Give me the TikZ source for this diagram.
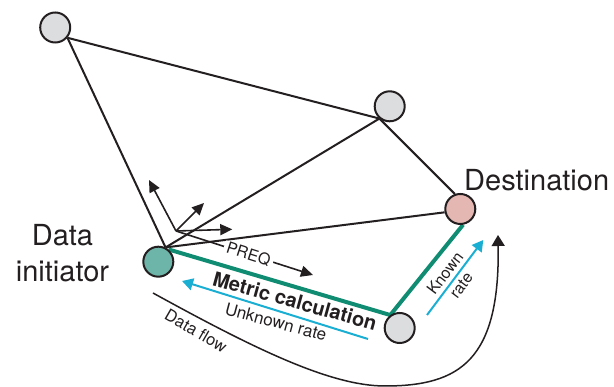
\documentclass[tikz,border=0pt]{standalone}
\usepackage{fontspec}
\setmainfont{TeX Gyre Heros}
\usetikzlibrary{arrows.meta}
\definecolor{ink}{HTML}{231F20}
\definecolor{nodegray}{HTML}{DCDDDF}
\definecolor{destpink}{HTML}{E5B7B2}
\definecolor{srcteal}{HTML}{6DB5A8}
\definecolor{pathgreen}{HTML}{108C73}
\definecolor{ratecyan}{HTML}{1AAED2}
\pgfdeclarelayer{bg}
\pgfsetlayers{bg,main}
\begin{document}
\begin{tikzpicture}[x=1pt,y=-1pt,
  netnode/.style={circle, draw=ink, line width=2pt, minimum size=30pt, inner sep=0pt},
  link/.style={draw=ink, line width=2pt},
  greenlink/.style={draw=pathgreen, line width=4pt},
  preqarrow/.style={draw=ink, line width=1.6pt, -{Triangle[length=12pt,width=11pt]}},
  ratearrow/.style={draw=ratecyan, line width=2pt, -{Triangle[length=11pt,width=12pt]}},
  flowarrow/.style={draw=ink, line width=1.5pt, -{Triangle[length=11pt,width=13pt]}},
  bigtext/.style={text=ink, font=\fontsize{29}{36}\selectfont, inner sep=0pt},
  smalltext/.style={text=ink, font=\fontsize{16}{20}\selectfont, inner sep=0pt}
]
\useasboundingbox (0,0) rectangle (614,387);

% network nodes
\node[netnode, fill=nodegray] (A) at (55.2,27.5) {};
\node[netnode, fill=nodegray] (B) at (389.7,106.3) {};
\node[netnode, fill=destpink] (D) at (460.3,209) {};
\node[netnode, fill=nodegray] (C) at (399.7,328) {};
\node[netnode, fill=srcteal] (S) at (158.3,261.7) {};

% links
\begin{pgfonlayer}{bg}
  \path[link] (A.-40) -- (S.63);
  \path[link] (A.-40) -- (B.230);
  \path[link] (B.230) -- (S.63);
  \path[link] (B.230) -- (D.110);
  \path[link] (S.63) -- (D.192);
  \path[greenlink] (S.50) -- (C.126);
  \path[greenlink] (C.126) -- (D.-80);
\end{pgfonlayer}

% labels
\node[bigtext, anchor=base west] (dest) at (464,190.5) {Destination};
\node[bigtext, align=center, anchor=base] (init) at (62.5,282) {Data\\initiator};

% PREQ broadcast arrows
\coordinate (O) at (176,231);
\coordinate (q1) at (149,180);
\coordinate (q2) at (204,203);
\coordinate (q3) at (232.3,229.3);
\coordinate (q4) at (313,275);
\draw[preqarrow] (O) -- (q1);
\draw[preqarrow] (O) -- (q2);
\draw[preqarrow] (O) -- (q3);
\draw[preqarrow] (O) -- node[pos=0.53, fill=white, rotate=-17.8, inner xsep=3pt, inner ysep=0pt, text=ink, font=\fontsize{16}{20}\selectfont] (preq) {PREQ} (q4);

% metric calculation
\node[text=ink, font=\fontsize{20}{24}\selectfont\bfseries, rotate=-15.5, inner sep=0pt] (metric) at (295,301) {Metric calculation};
\node[text=ink, font=\fontsize{17}{20}\selectfont, rotate=-15, inner sep=0pt] (unk) at (276,322) {Unknown rate};
\coordinate (u1) at (368,339);
\coordinate (u2) at (182,281);
\draw[ratearrow] (u1) -- (u2);

% known rate
\coordinate (k1) at (427,315);
\coordinate (k2) at (483.3,240);
\draw[ratearrow] (k1) -- (k2);
\node[smalltext, align=center, rotate=53] (known) at (453,279) {Known\\rate};

% data flow
\coordinate (f0) at (153,293);
\coordinate (fm) at (385,386);
\coordinate (f1) at (498,235);
\draw[flowarrow] (f0) .. controls (253,348) and (330,386) .. (fm) .. controls (460,386) and (500,360) .. (f1);
\node[text=ink, font=\fontsize{16.5}{20}\selectfont, inner sep=0pt, rotate=-30] (dflow) at (196,331) {Data flow};
\end{tikzpicture}
\end{document}
